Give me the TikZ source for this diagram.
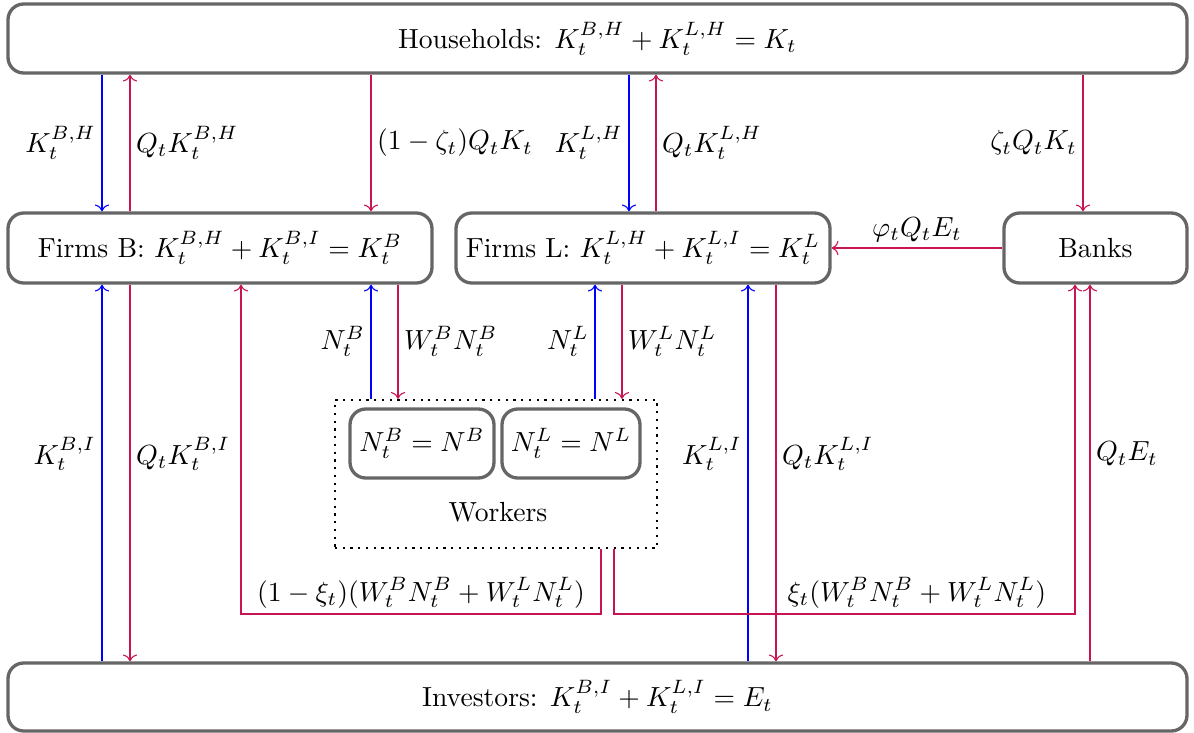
\documentclass[tikz,border=0pt]{standalone}
\usetikzlibrary{arrows.meta}
\newcommand\px{0.3618pt}
\definecolor{flowred}{RGB}{200,20,85}
\begin{document}
\begin{tikzpicture}[x=0.3618pt,y=-0.3618pt,
  box/.style={draw=black!60, line width=1.2pt, rounded corners=2mm, inner sep=0pt, align=center},
  bl/.style={blue, ->},
  rd/.style={flowred, ->},
  lab/.style={inner sep=2pt, text=black}]
\useasboundingbox (0,0) rectangle (1194,733);
% nodes
\node[box, minimum width=1179*\px, minimum height=69*\px] (hh) at (597.5,38.5) {Households: $K_t^{B,H}+K_t^{L,H}=K_t$};
\node[box, minimum width=424*\px, minimum height=70*\px] (fb) at (220,248) {Firms B: $K_t^{B,H}+K_t^{B,I}=K_t^B$};
\node[box, minimum width=374*\px, minimum height=70*\px] (fl) at (643,248) {Firms L: $K_t^{L,H}+K_t^{L,I}=K_t^L$};
\node[box, minimum width=183*\px, minimum height=70*\px] (bk) at (1095.5,248) {Banks};
\node[box, minimum width=1179*\px, minimum height=68*\px] (inv) at (597.5,697) {Investors: $K_t^{B,I}+K_t^{L,I}=E_t$};
\node[draw, dotted, line width=0.8pt, minimum width=322*\px, minimum height=148*\px, inner sep=0pt] (wk) at (496,474) {};
\node[box, minimum width=144*\px, minimum height=69*\px] (nb) at (422,443.5) {$N_t^B=N^B$};
\node[box, minimum width=138*\px, minimum height=69*\px] (nl) at (571,443.5) {$N_t^L=N^L$};
\node (wlab) at (498,512) {Workers};
% columns
\foreach \c in {102,130,241,371,398,595,601,614,622,629,656,748,776,1075,1083,1090}
  \coordinate (x\c) at (\c,0);
\coordinate (ybot) at (0,614);
% households <-> firms
\draw[bl] (hh.south -| x102) -- node[left, lab] {$K_t^{B,H}$} (fb.north -| x102);
\draw[rd] (fb.north -| x130) -- node[right, lab] {$Q_tK_t^{B,H}$} (hh.south -| x130);
\draw[rd] (hh.south -| x371) -- node[right, lab] {$(1-\zeta_t)Q_tK_t$} (fb.north -| x371);
\draw[bl] (hh.south -| x629) -- node[left, lab] {$K_t^{L,H}$} (fl.north -| x629);
\draw[rd] (fl.north -| x656) -- node[right, lab] {$Q_tK_t^{L,H}$} (hh.south -| x656);
\draw[rd] (hh.south -| x1083) -- node[left, lab] {$\zeta_tQ_tK_t$} (bk.north -| x1083);
\draw[rd] (bk.west) -- node[above, lab] {$\varphi_tQ_tE_t$} (fl.east);
% firms <-> investors
\draw[bl] (inv.north -| x102) -- node[left, lab, pos=0.55] {$K_t^{B,I}$} (fb.south -| x102);
\draw[rd] (fb.south -| x130) -- node[right, lab, pos=0.45] {$Q_tK_t^{B,I}$} (inv.north -| x130);
\draw[bl] (inv.north -| x748) -- node[left, lab, pos=0.55] {$K_t^{L,I}$} (fl.south -| x748);
\draw[rd] (fl.south -| x776) -- node[right, lab, pos=0.45] {$Q_tK_t^{L,I}$} (inv.north -| x776);
\draw[rd] (inv.north -| x1090) -- node[right, lab, pos=0.55] {$Q_tE_t$} (bk.south -| x1090);
% firms <-> workers
\draw[bl] (wk.north -| x371) -- node[left, lab] {$N_t^B$} (fb.south -| x371);
\draw[rd] (fb.south -| x398) -- node[right, lab] {$W_t^BN_t^B$} (wk.north -| x398);
\draw[bl] (wk.north -| x595) -- node[left, lab] {$N_t^L$} (fl.south -| x595);
\draw[rd] (fl.south -| x622) -- node[right, lab] {$W_t^LN_t^L$} (wk.north -| x622);
% workers -> firms B / banks
\draw[rd] (wk.south -| x601) -- (x601 |- ybot) -- node[above, lab] {$(1-\xi_t)(W_t^BN_t^B+W_t^LN_t^L)$} (x241 |- ybot) -- (fb.south -| x241);
\draw[rd] (wk.south -| x614) -- (x614 |- ybot) -- node[above, lab, pos=0.657] {$\xi_t(W_t^BN_t^B+W_t^LN_t^L)$} (x1075 |- ybot) -- (bk.south -| x1075);
\end{tikzpicture}
\end{document}
